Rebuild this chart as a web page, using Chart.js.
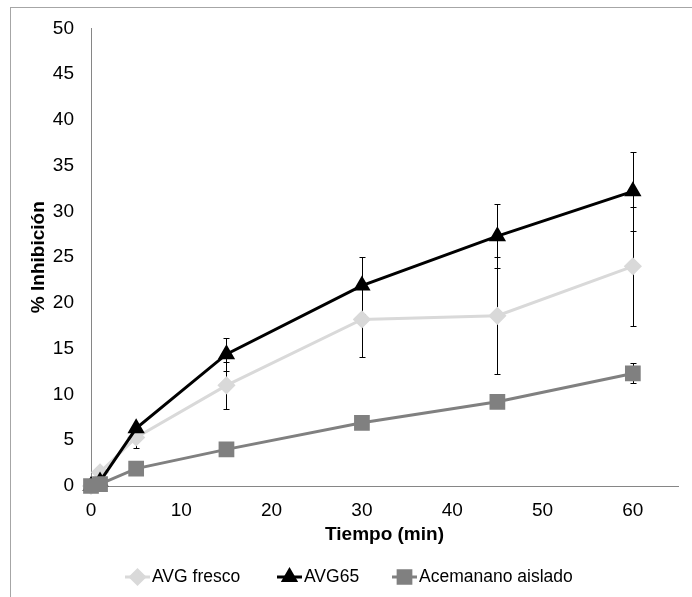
<!DOCTYPE html>
<html>
<head>
<meta charset="utf-8">
<script src="https://cdn.jsdelivr.net/npm/chart.js@4.4.1/dist/chart.umd.min.js"></script>
<style>
  body { margin: 0; background: #fff; }
  #wrap { position: relative; width: 692px; height: 597px; overflow: hidden; }
  #marco { position: absolute; left: 10px; top: 7px; width: 800px; height: 700px;
           border-left: 1px solid #a6a6a6; border-top: 1px solid #a6a6a6; }
  canvas { position: absolute; left: 0; top: 0; }
</style>
</head>
<body>
<div id="wrap">
  <div id="marco"></div>
  <canvas id="inhibicionChart" width="692" height="597"></canvas>
</div>
<script>
// tiempos de muestreo (min)
var tiempos = [0, 1, 5, 15, 30, 45, 60];

// % inhibicion media y desviacion de cada muestra
var avgFresco = [0, 1.5, 5.3, 11.0, 18.2, 18.6, 24.0];
var avgFrescoErr = [0, 0, 1.1, 2.6, 4.1, 6.4, 6.5];
var avg65 = [0, 0.5, 6.3, 14.4, 21.9, 27.3, 32.2];
var avg65Err = [0, 0, 0.5, 1.8, 3.1, 3.5, 4.3];
var acemanano = [0, 0.2, 1.9, 4.0, 6.9, 9.2, 12.3];
var acemananoErr = [0, 0, 0, 0, 0, 0, 1.1];

var xTicks = [0, 10, 20, 30, 40, 50, 60];
var yTicks = [0, 5, 10, 15, 20, 25, 30, 35, 40, 45, 50];

function puntos(valores) {
  return tiempos.map(function (t, i) { return { x: t, y: valores[i] }; });
}

var fuente = 'Liberation Sans, Arial, sans-serif';

// barras de error verticales, debajo de las lineas
var barrasError = {
  id: 'barrasError',
  beforeDatasetsDraw: function (chart) {
    var ctx = chart.ctx;
    var sx = chart.scales.x, sy = chart.scales.y;
    ctx.save();
    ctx.strokeStyle = '#000';
    ctx.lineWidth = 1;
    chart.data.datasets.forEach(function (ds) {
      ds.errores.forEach(function (e, i) {
        if (!e) return;
        var px = Math.round(sx.getPixelForValue(ds.data[i].x)) + 0.5;
        var top = Math.round(sy.getPixelForValue(ds.data[i].y + e)) + 0.5;
        var bot = Math.round(sy.getPixelForValue(ds.data[i].y - e)) + 0.5;
        ctx.beginPath();
        ctx.moveTo(px, top); ctx.lineTo(px, bot);
        ctx.moveTo(px - 3, top); ctx.lineTo(px + 3, top);
        ctx.moveTo(px - 3, bot); ctx.lineTo(px + 3, bot);
        ctx.stroke();
      });
    });
    ctx.restore();
  }
};

// leyenda con linea y marcador, como en la serie
var leyenda = {
  id: 'leyenda',
  afterDraw: function (chart) {
    var ctx = chart.ctx;
    var y = 577;
    var items = [
      { ds: chart.data.datasets[0], x: 125 },
      { ds: chart.data.datasets[1], x: 277 },
      { ds: chart.data.datasets[2], x: 392 }
    ];
    ctx.save();
    items.forEach(function (it) {
      var ds = it.ds;
      ctx.strokeStyle = ds.borderColor;
      ctx.lineWidth = 3;
      ctx.beginPath();
      ctx.moveTo(it.x, y); ctx.lineTo(it.x + 25, y);
      ctx.stroke();
      ctx.fillStyle = ds.pointBackgroundColor;
      ctx.strokeStyle = ds.pointBackgroundColor;
      Chart.helpers.drawPoint(ctx, {
        pointStyle: ds.pointStyle, radius: ds.pointRadius, borderWidth: 1, rotation: 0
      }, it.x + 12.5, y);
      ctx.fillStyle = '#000';
      ctx.font = '17.5px ' + fuente;
      ctx.textBaseline = 'middle';
      ctx.fillText(ds.label, it.x + 27, y);
    });
    ctx.restore();
  }
};

var ctxInhibicion = document.getElementById('inhibicionChart');
var inhibicionChart = new Chart(ctxInhibicion, {
  type: 'scatter',
  data: {
    datasets: [{
      label: 'AVG fresco',
      data: puntos(avgFresco),
      errores: avgFrescoErr,
      showLine: true,
      borderColor: '#d9d9d9',
      borderWidth: 3,
      pointStyle: 'rectRot',
      pointRadius: 7,
      pointBackgroundColor: '#d9d9d9',
      pointBorderColor: '#d9d9d9',
      order: 3,
      clip: false
    }, {
      label: 'AVG65',
      data: puntos(avg65),
      errores: avg65Err,
      showLine: true,
      borderColor: '#000000',
      borderWidth: 3,
      pointStyle: 'triangle',
      pointRadius: 7,
      pointBackgroundColor: '#000000',
      pointBorderColor: '#000000',
      order: 2,
      clip: false
    }, {
      label: 'Acemanano aislado',
      data: puntos(acemanano),
      errores: acemananoErr,
      showLine: true,
      borderColor: '#808080',
      borderWidth: 3,
      pointStyle: 'rect',
      pointRadius: 9,
      pointBackgroundColor: '#808080',
      pointBorderColor: '#808080',
      order: 1,
      clip: false
    }]
  },
  options: {
    responsive: false,
    animation: false,
    layout: { padding: { left: 0, top: 15, right: 14, bottom: 47 } },
    plugins: { legend: { display: false }, tooltip: { enabled: false } },
    scales: {
      x: {
        type: 'linear',
        min: 0,
        max: 65,
        afterBuildTicks: function (scale) {
          scale.ticks = xTicks.map(function (v) { return { value: v }; });
        },
        afterFit: function (scale) { scale.height = 64; },
        grid: { display: false, drawTicks: false },
        border: { color: '#868686', width: 1 },
        ticks: { color: '#000', padding: 13, font: { family: fuente, size: 19 } },
        title: {
          display: true,
          text: 'Tiempo (min)',
          color: '#000',
          font: { family: fuente, size: 19, weight: 'bold' },
          padding: { top: 0, bottom: 4 }
        }
      },
      y: {
        min: 0,
        max: 50,
        afterBuildTicks: function (scale) {
          scale.ticks = yTicks.map(function (v) { return { value: v }; });
        },
        afterFit: function (scale) { scale.width = 91; },
        grid: { display: false, drawTicks: false },
        border: { color: '#868686', width: 1 },
        ticks: { color: '#000', padding: 17, font: { family: fuente, size: 19 } },
        title: {
          display: true,
          text: '% Inhibición',
          color: '#000',
          font: { family: fuente, size: 19, weight: 'bold' },
          padding: { top: 27, bottom: 0 }
        }
      }
    }
  },
  plugins: [barrasError, leyenda]
});
</script>
</body>
</html>
